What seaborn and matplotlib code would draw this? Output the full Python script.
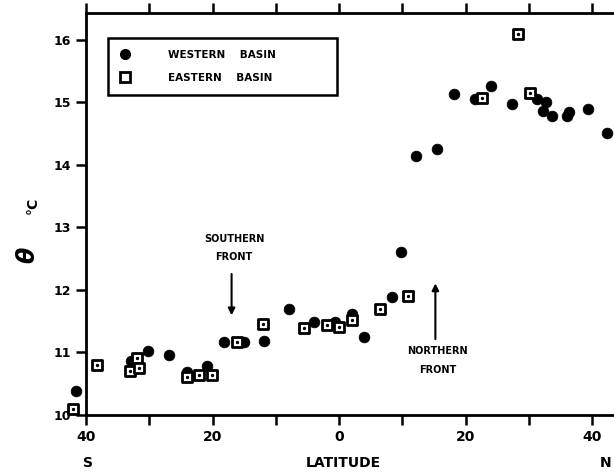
import numpy as np
import pandas as pd
import matplotlib
matplotlib.use("Agg")
import matplotlib.pyplot as plt
import seaborn as sns
from matplotlib.lines import Line2D

# Potential temperature versus latitude (negative = south)
west_lat = [-41.6, -32.9, -30.2, -26.9, -24.1, -20.9, -18.2, -15.1, -11.9, -8.0,
            -3.9, -0.7, 2.1, 4.0, 8.3, 9.8, 12.2, 15.4, 18.2, 21.4, 24.0, 27.3,
            31.3, 32.6, 32.2, 33.7, 36.3, 36.0, 39.3, 42.3]
west_theta = [10.38, 10.86, 11.02, 10.96, 10.69, 10.78, 11.16, 11.16, 11.18, 11.69,
              11.48, 11.48, 11.61, 11.24, 11.88, 12.60, 14.15, 14.26, 15.14, 15.06,
              15.26, 14.98, 15.06, 15.01, 14.86, 14.78, 14.85, 14.78, 14.90, 14.51]

east_lat = [-42.0, -38.3, -33.1, -32.0, -31.6, -24.1, -22.2, -20.1, -16.2, -12.1,
            -5.6, -2.0, -0.1, 2.1, 6.4, 10.9, 22.5, 28.2, 30.2]
east_theta = [10.10, 10.80, 10.70, 10.91, 10.75, 10.60, 10.64, 10.64, 11.16, 11.45,
              11.39, 11.44, 11.40, 11.52, 11.69, 11.90, 15.07, 16.10, 15.15]

x_ticks = [-40, -30, -20, -10, 0, 10, 20, 30, 40]
x_ticklabels = ["40", "", "20", "", "0", "", "20", "", "40"]
y_ticks = [10, 11, 12, 13, 14, 15, 16]
y_ticklabels = ["10", "11", "12", "13", "14", "15", "16"]

west = pd.DataFrame({"lat": west_lat, "theta": west_theta})
east = pd.DataFrame({"lat": east_lat, "theta": east_theta})

sns.set_style("white")
plt.rcParams["font.family"] = ["DejaVu Sans"]
plt.rcParams["font.weight"] = "bold"
plt.rcParams["text.color"] = "black"
plt.rcParams["xtick.color"] = "black"
plt.rcParams["ytick.color"] = "black"
plt.rcParams["axes.labelcolor"] = "black"

fig = plt.figure(figsize=(6.14, 4.74), dpi=100)
W, H = 614, 474
x0, x1, ytop, ybot = 86, 624, 13, 415
ax = fig.add_axes([x0 / W, 1 - ybot / H, (x1 - x0) / W, (ybot - ytop) / H])
ax.set_xlim(-40, 45)
ax.set_ylim(10, 16.43)

sns.scatterplot(data=west, x="lat", y="theta", ax=ax, marker="o", s=60,
                color="black", edgecolor="black", linewidth=0.5, zorder=3,
                clip_on=False)
sns.scatterplot(data=east, x="lat", y="theta", ax=ax, marker="s", s=52,
                color="white", edgecolor="black", linewidth=2.0, zorder=4,
                clip_on=False)
ax.scatter(east["lat"], east["theta"], marker="o", s=2, color="black",
           zorder=5, clip_on=False)

for side in ["left", "bottom", "top", "right"]:
    ax.spines[side].set_color("black")
    ax.spines[side].set_linewidth(2.0)

ax.set_xticks(x_ticks)
ax.set_xticklabels(x_ticklabels, fontsize=10, fontweight="bold")
ax.set_yticks(y_ticks)
ax.set_yticklabels(y_ticklabels, fontsize=9, fontweight="bold")
ax.tick_params(axis="both", direction="out", length=7, width=1.8, color="black",
               labelcolor="black", bottom=True, left=True, top=True,
               labeltop=False, pad=4)
ax.set_xlabel("")
ax.set_ylabel("")

# axis titles
fig.text(343 / W, 1 - 463 / H, "LATITUDE", ha="center", va="center",
         fontsize=10, fontweight="bold")
fig.text(88 / W, 1 - 463 / H, "S", ha="center", va="center",
         fontsize=10, fontweight="bold")
fig.text(606 / W, 1 - 463 / H, "N", ha="center", va="center",
         fontsize=10, fontweight="bold")
fig.text(28 / W, 1 - 255 / H, r"$\theta$", ha="center", va="center",
         fontsize=17, rotation=90)
fig.text(33 / W, 1 - 205 / H, "°C", ha="center", va="center",
         fontsize=10, fontweight="bold", rotation=90)

# front annotations
ax.annotate("", xy=(-17.0, 11.55), xytext=(-17.0, 12.30),
            arrowprops=dict(arrowstyle="-|>", color="black", lw=1.5,
                            mutation_scale=10))
ax.text(-16.6, 12.82, "SOUTHERN", ha="center", va="center", fontsize=7,
        fontweight="bold")
ax.text(-16.6, 12.52, "FRONT", ha="center", va="center", fontsize=7,
        fontweight="bold")
ax.annotate("", xy=(15.2, 12.15), xytext=(15.2, 11.17),
            arrowprops=dict(arrowstyle="-|>", color="black", lw=1.5,
                            mutation_scale=10))
ax.text(15.5, 11.02, "NORTHERN", ha="center", va="center", fontsize=7,
        fontweight="bold")
ax.text(15.5, 10.72, "FRONT", ha="center", va="center", fontsize=7,
        fontweight="bold")

handles = [
    Line2D([], [], marker="o", linestyle="none", color="black", markersize=7),
    Line2D([], [], marker="s", linestyle="none", markerfacecolor="white",
           markeredgecolor="black", markeredgewidth=2.0, markersize=7),
]
leg = ax.legend(handles, ["WESTERN    BASIN", "EASTERN    BASIN"],
                loc="upper left", bbox_to_anchor=(0.041, 0.806, 0.426, 0.132),
                mode="expand", frameon=True, fancybox=False, edgecolor="black",
                framealpha=1.0,
                prop={"size": 7.5, "weight": "bold"}, handletextpad=3.6,
                borderpad=1.15, labelspacing=1.25, handlelength=1.0,
                borderaxespad=0)
leg.get_frame().set_linewidth(1.8)
leg.get_frame().set_edgecolor("black")
for t in leg.get_texts():
    t.set_fontweight("bold")
    t.set_color("black")

fig.savefig("out.png", dpi=100, facecolor="white")
